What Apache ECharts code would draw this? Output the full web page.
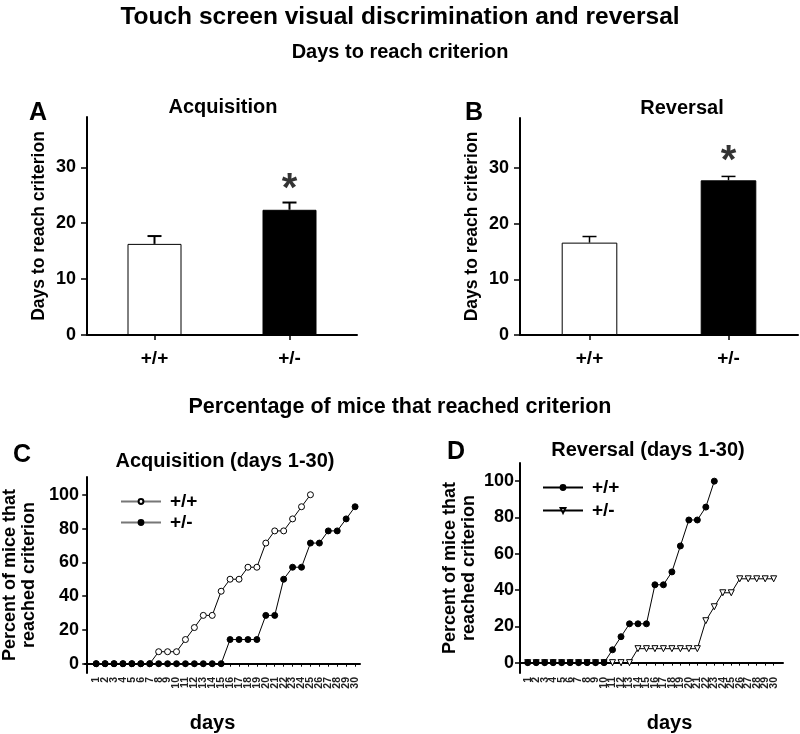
<!DOCTYPE html>
<html>
<head>
<meta charset="utf-8">
<script src="https://cdn.jsdelivr.net/npm/echarts@6/dist/echarts.min.js"></script>
<style>html,body{margin:0;padding:0;background:#fff}#main{width:800px;height:734px}</style>
</head>
<body>
<div id="main"></div>
<script>
// ---- data ----
const barCategories = ['+/+', '+/-'];
const acqMeans = [16.3, 22.4];
const acqErrors = [1.4, 1.3];
const revMeans = [16.6, 27.8];
const revErrors = [1.1, 0.7];
const barTicks = [0, 10, 20, 30];

const days = [1,2,3,4,5,6,7,8,9,10,11,12,13,14,15,16,17,18,19,20,21,22,23,24,25,26,27,28,29,30];
const pctTicks = [0, 20, 40, 60, 80, 100];
// C: Acquisition (days 1-30)
const acqWT = [0,0,0,0,0,0,0,7.1,7.1,7.1,14.3,21.4,28.6,28.6,42.9,50,50,57.1,57.1,71.4,78.6,78.6,85.7,92.9,100];
const acqHet = [0,0,0,0,0,0,0,0,0,0,0,0,0,0,0,14.3,14.3,14.3,14.3,28.6,28.6,50,57.1,57.1,71.4,71.4,78.6,78.6,85.7,92.9];
// D: Reversal (days 1-30)
const revWT = [0,0,0,0,0,0,0,0,0,0,7.1,14.3,21.4,21.4,21.4,42.9,42.9,50,64.3,78.6,78.6,85.7,100];
const revHet = [0,0,0,0,0,0,0,0,0,0,0,0,0,7.7,7.7,7.7,7.7,7.7,7.7,7.7,7.7,23.1,30.8,38.5,38.5,46.2,46.2,46.2,46.2,46.2];

const FONT = '"Liberation Sans", Arial, sans-serif';
const pairs = (arr) => arr.map((v, i) => [days[i], v]);

function errSeries(gridIdx, means, errs, lw) {
  return {
    type: 'custom', xAxisIndex: gridIdx, yAxisIndex: gridIdx, z: 1,
    data: means.map((m, i) => [i, m, errs[i]]),
    renderItem: function (params, api) {
      const p0 = api.coord([api.value(0), api.value(1)]);
      const p1 = api.coord([api.value(0), api.value(1) + api.value(2)]);
      const st = { stroke: '#000', lineWidth: lw };
      return { type: 'group', children: [
        { type: 'line', shape: { x1: p0[0], y1: p0[1], x2: p1[0], y2: p1[1] }, style: st },
        { type: 'line', shape: { x1: p1[0] - 7, y1: p1[1], x2: p1[0] + 7, y2: p1[1] }, style: st }
      ]};
    }
  };
}
function starSeries(gridIdx, means, errs, idx, dist) {
  return {
    type: 'scatter', xAxisIndex: gridIdx, yAxisIndex: gridIdx, symbolSize: 1,
    itemStyle: { color: 'transparent' }, silent: true,
    data: [[idx, means[idx] + errs[idx]]],
    label: { show: true, position: 'top', distance: dist, formatter: '*', fontSize: 40, fontWeight: 'bold', color: '#000', fontFamily: FONT }
  };
}
function barSeries(gridIdx, means) {
  return {
    type: 'bar', xAxisIndex: gridIdx, yAxisIndex: gridIdx, barWidth: '40%', z: 2,
    data: means.map((m, i) => ({ value: m, itemStyle: { color: i === 0 ? '#fff' : '#000', borderColor: '#000', borderWidth: 1 } }))
  };
}
// day tick labels drawn at the axis scale positions (all 30 shown, rotated)
function dayLabelSeries(gridIdx, yMin) {
  return {
    type: 'custom', xAxisIndex: gridIdx, yAxisIndex: gridIdx, silent: true, clip: false,
    data: days.map(d => [d]),
    renderItem: function (params, api) {
      const p = api.coord([api.value(0), yMin]);
      return { type: 'text', x: p[0], y: p[1] + 4, rotation: Math.PI / 2,
        style: { text: String(api.value(0)), align: 'right', verticalAlign: 'middle',
          font: 'bold 10.5px ' + FONT, fill: '#222' } };
    }
  };
}
const axisBase = {
  axisLine: { show: true, lineStyle: { color: '#000', width: 2 } },
  splitLine: { show: false }
};
function barYAxis(gridIdx) {
  return Object.assign({}, axisBase, {
    gridIndex: gridIdx, type: 'value', min: 0, max: 39,
    name: 'Days to reach criterion', nameLocation: 'middle', nameGap: 39,
    nameTextStyle: { fontSize: 17.5, fontWeight: 'bold', color: '#000', fontFamily: FONT },
    axisTick: { show: true, customValues: barTicks, lineStyle: { color: '#000', width: 1.5 }, length: 6 },
    axisLabel: { customValues: barTicks, fontSize: 18, fontWeight: 'bold', color: '#000', fontFamily: FONT, margin: 11 }
  });
}
function barXAxis(gridIdx) {
  return Object.assign({}, axisBase, {
    gridIndex: gridIdx, type: 'category', data: barCategories,
    axisTick: { show: true, alignWithLabel: true, lineStyle: { color: '#000', width: 1.5 }, length: 5 },
    axisLabel: { fontSize: 19, fontWeight: 'bold', color: '#000', fontFamily: FONT, margin: 14 }
  });
}
function lineXAxis(gridIdx, min, max, namePad) {
  return Object.assign({}, axisBase, {
    gridIndex: gridIdx, type: 'value', min: min, max: max,
    name: 'days', nameLocation: 'middle', nameGap: 40,
    nameTextStyle: { fontSize: 20, fontWeight: 'bold', color: '#000', fontFamily: FONT, padding: namePad },
    axisTick: { show: true, customValues: days, lineStyle: { color: '#000', width: 1 }, length: 3 },
    axisLabel: { show: false }
  });
}
function lineYAxis(gridIdx, min, max, gap) {
  return Object.assign({}, axisBase, {
    gridIndex: gridIdx, type: 'value', min: min, max: max,
    name: 'Percent of mice that\nreached criterion', nameLocation: 'middle', nameGap: gap,
    nameTextStyle: { fontSize: 18, fontWeight: 'bold', color: '#000', fontFamily: FONT, lineHeight: 19 },
    axisTick: { show: true, customValues: pctTicks, lineStyle: { color: '#000', width: 1.5 }, length: 5 },
    axisLabel: { customValues: pctTicks, fontSize: 18, fontWeight: 'bold', color: '#000', fontFamily: FONT, margin: 6 }
  });
}
function lineSeries(name, gridIdx, arr, symbol, fill, size, rotate) {
  return {
    name: name, type: 'line', xAxisIndex: gridIdx, yAxisIndex: gridIdx,
    data: pairs(arr), symbol: symbol, symbolSize: size, symbolRotate: rotate || 0, showAllSymbol: true,
    lineStyle: { color: '#000', width: 1 },
    itemStyle: { color: fill, borderColor: '#000', borderWidth: 1 }
  };
}
const textStyle = (size) => ({ fontSize: size, fontWeight: 'bold', color: '#000', fontFamily: FONT });

const yRangeC = [-5.5, 110.5];
const yRangeD = [-5.7, 110];

const option = {
  animation: false,
  backgroundColor: '#fff',
  title: [
    { text: 'Touch screen visual discrimination and reversal', left: 'center', top: 0, textStyle: textStyle(24.5) },
    { text: 'Days to reach criterion', left: 'center', top: 37, textStyle: textStyle(20) },
    { text: 'Percentage of mice that reached criterion', left: 'center', top: 391, textStyle: textStyle(21.5) },
    { text: 'A', left: 24, top: 96, textStyle: textStyle(25) },
    { text: 'B', left: 460, top: 96, textStyle: textStyle(25) },
    { text: 'C', left: 8, top: 438, textStyle: textStyle(25) },
    { text: 'D', left: 442, top: 435, textStyle: textStyle(25) },
    { text: 'Acquisition', left: 218, textAlign: 'center', top: 92, textStyle: textStyle(20) },
    { text: 'Reversal', left: 677, textAlign: 'center', top: 93, textStyle: textStyle(20) },
    { text: 'Acquisition (days 1-30)', left: 220, textAlign: 'center', top: 446, textStyle: textStyle(20) },
    { text: 'Reversal (days 1-30)', left: 643, textAlign: 'center', top: 435, textStyle: textStyle(20) }
  ],
  grid: [
    { left: 87, top: 117, width: 270, height: 218 },
    { left: 520, top: 118, width: 278, height: 217 },
    { left: 82, top: 477, width: 278, height: 210 },
    { left: 520, top: 463, width: 263, height: 223 }
  ],
  xAxis: [barXAxis(0), barXAxis(1), lineXAxis(2, -0.25, 30.55, [0, 20, 0, 0]), lineXAxis(3, 0.09, 31.1, [0, 0, 0, 36])],
  yAxis: [barYAxis(0), barYAxis(1), lineYAxis(2, yRangeC[0], yRangeC[1], 46), lineYAxis(3, yRangeD[0], yRangeD[1], 41)],
  legend: [
    { data: ['C+/+', 'C+/-'], orient: 'vertical', left: 115, top: 487, itemWidth: 40, itemHeight: 6, itemGap: 2,
      formatter: (n) => n.slice(1), textStyle: Object.assign(textStyle(19), { padding: [0, 0, 0, 4] }),
      lineStyle: { color: '#777' }, selectedMode: false },
    { data: ['D+/+', 'D+/-'], orient: 'vertical', left: 537, top: 473, itemWidth: 40, itemHeight: 6, itemGap: 4,
      formatter: (n) => n.slice(1), textStyle: Object.assign(textStyle(19), { padding: [0, 0, 0, 4] }), selectedMode: false }
  ],
  series: [
    errSeries(0, acqMeans, acqErrors, 2), barSeries(0, acqMeans), starSeries(0, acqMeans, acqErrors, 1, -8),
    errSeries(1, revMeans, revErrors, 1.5), barSeries(1, revMeans), starSeries(1, revMeans, revErrors, 1, -6),
    lineSeries('C+/+', 2, acqWT, 'circle', '#fff', 6),
    lineSeries('C+/-', 2, acqHet, 'circle', '#000', 6),
    lineSeries('D+/-', 3, revHet, 'triangle', '#fff', 6, 180),
    lineSeries('D+/+', 3, revWT, 'circle', '#000', 6),
    dayLabelSeries(2, yRangeC[0]),
    dayLabelSeries(3, yRangeD[0])
  ]
};
const chart = echarts.init(document.getElementById('main'), null, { renderer: 'canvas' });
chart.setOption(option);
</script>
</body>
</html>
